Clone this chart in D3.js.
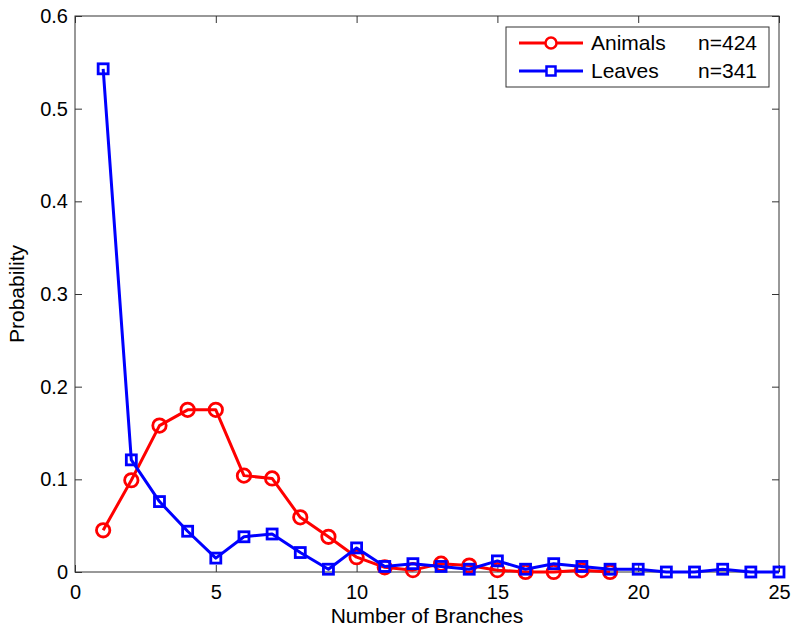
<!DOCTYPE html>
<html><head><meta charset="utf-8">
<script src="https://cdn.jsdelivr.net/npm/d3@7"></script>
<style>body{margin:0;background:#fff}svg{display:block}text{font-family:"Liberation Sans",Arial,Helvetica,sans-serif}</style>
</head><body>
<script>
const animalsX = [1,2,3,4,5,6,7,8,9,10,11,12,13,14,15,16,17,18,19];
const animalsY = [0.045,0.099,0.158,0.175,0.175,0.104,0.101,0.059,0.038,0.016,0.005,0.002,0.009,0.007,0.002,0.0,0.0,0.002,0.0];
const leavesX = [1,2,3,4,5,6,7,8,9,10,11,12,13,14,15,16,17,18,19,20,21,22,23,24,25];
const leavesY = [0.543,0.121,0.076,0.044,0.015,0.038,0.041,0.021,0.003,0.026,0.006,0.009,0.006,0.003,0.012,0.003,0.009,0.006,0.003,0.003,0.0,0.0,0.003,0.0,0.0];
const xTicks = [0,5,10,15,20,25];
const yTicks = [0,0.1,0.2,0.3,0.4,0.5,0.6];
const legendLabels = ["Animals","Leaves"];
const legendCounts = ["n=424","n=341"];

const W=800,H=633;
const m={l:75,r:21,t:16,b:61};
const svg=d3.select("body").append("svg").attr("width",W).attr("height",H);
const x=d3.scaleLinear().domain([0,25]).range([m.l,W-m.r]);
const y=d3.scaleLinear().domain([0,0.6]).range([H-m.b,m.t]);
const axCol="#333";
const fs=20;

svg.append("rect").attr("x",x(0)).attr("y",y(0.6)).attr("width",x(25)-x(0)).attr("height",y(0)-y(0.6))
  .attr("fill","none").attr("stroke",axCol).attr("stroke-width",1);

const tl=7;
const fmtY=d=>d===0?"0":d3.format(".1f")(d);
const gx=svg.append("g").attr("transform",`translate(0,${y(0)})`).call(d3.axisBottom(x).tickValues(xTicks).tickSize(-tl).tickPadding(13).tickFormat(d3.format("d")));
const gxt=svg.append("g").attr("transform",`translate(0,${y(0.6)})`).call(d3.axisTop(x).tickValues(xTicks).tickSize(-tl).tickFormat(""));
const gy=svg.append("g").attr("transform",`translate(${x(0)},0)`).call(d3.axisLeft(y).tickValues(yTicks).tickSize(-tl).tickPadding(7).tickFormat(fmtY));
const gyr=svg.append("g").attr("transform",`translate(${x(25)},0)`).call(d3.axisRight(y).tickValues(yTicks).tickSize(-tl).tickFormat(""));
[gx,gxt,gy,gyr].forEach(g=>{
  g.select(".domain").remove();
  g.selectAll("line").attr("stroke",axCol);
  g.selectAll("text").attr("font-size",fs).attr("fill","#000").style("font-family","'Liberation Sans',Arial,sans-serif");
});

svg.append("text").attr("x",(x(0)+x(25))/2).attr("y",623).attr("text-anchor","middle").attr("font-size",21).text("Number of Branches");
svg.append("text").attr("transform",`translate(24,${(y(0)+y(0.6))/2}) rotate(-90)`).attr("text-anchor","middle").attr("font-size",21).text("Probability");

const line=d3.line().x(d=>x(d[0])).y(d=>y(d[1]));
const aData=animalsX.map((v,i)=>[v,animalsY[i]]);
const lData=leavesX.map((v,i)=>[v,leavesY[i]]);
const red="#ff0000",blue="#0000ff";

svg.append("path").datum(aData).attr("d",line).attr("fill","none").attr("stroke",red).attr("stroke-width",3).attr("stroke-linejoin","round");
svg.append("g").selectAll("circle").data(aData).join("circle").attr("cx",d=>x(d[0])).attr("cy",d=>y(d[1])).attr("r",6.7)
  .attr("fill","none").attr("stroke",red).attr("stroke-width",2.8);

svg.append("path").datum(lData).attr("d",line).attr("fill","none").attr("stroke",blue).attr("stroke-width",3).attr("stroke-linejoin","round");
const sq=10;
svg.append("g").selectAll("rect").data(lData).join("rect").attr("x",d=>x(d[0])-sq/2).attr("y",d=>y(d[1])-sq/2).attr("width",sq).attr("height",sq)
  .attr("fill","none").attr("stroke",blue).attr("stroke-width",2.8);

const lg=svg.append("g");
lg.append("rect").attr("x",506).attr("y",27).attr("width",263).attr("height",60).attr("fill","#fff").attr("stroke",axCol).attr("stroke-width",1);
const rows=[{c:red,t:"circle"},{c:blue,t:"rect"}];
rows.forEach((r,i)=>{
  const yy=43+i*28;
  lg.append("line").attr("x1",519).attr("x2",583).attr("y1",yy).attr("y2",yy).attr("stroke",r.c).attr("stroke-width",3);
  if(r.t==="circle") lg.append("circle").attr("cx",551).attr("cy",yy).attr("r",5.5).attr("fill","#fff").attr("stroke",r.c).attr("stroke-width",2.5);
  else lg.append("rect").attr("x",551-4.5).attr("y",yy-4.5).attr("width",9).attr("height",9).attr("fill","#fff").attr("stroke",r.c).attr("stroke-width",2.5);
  lg.append("text").attr("x",591).attr("y",yy+7).attr("font-size",21).text(legendLabels[i]);
  lg.append("text").attr("x",757).attr("y",yy+7).attr("text-anchor","end").attr("font-size",21).text(legendCounts[i]);
});
</script>
</body></html>
